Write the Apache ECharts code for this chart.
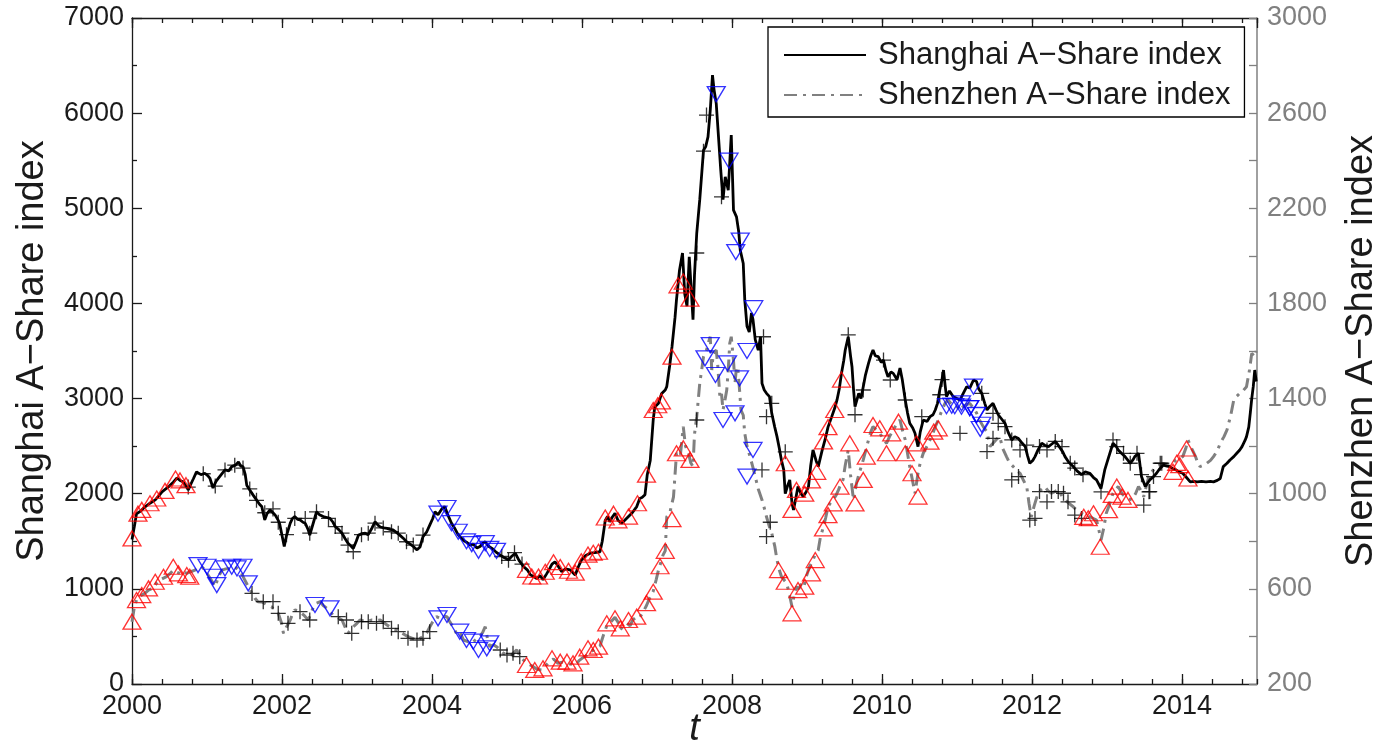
<!DOCTYPE html>
<html>
<head>
<meta charset="utf-8">
<script src="https://cdn.jsdelivr.net/npm/echarts@6/dist/echarts.min.js"></script>
<style>
  html, body { margin: 0; padding: 0; background: #fff; }
  #chart { width: 1387px; height: 742px; }
</style>
</head>
<body>
<div id="chart"></div>
<script>
// Shanghai A-Share index, [year, index level]
const shanghai = [
[2000.00,1520],[2000.03,1650],[2000.06,1790],[2000.12,1820],[2000.17,1860],[2000.24,1900],[2000.31,1935],[2000.36,1980],[2000.40,2020],[2000.45,2050],
[2000.49,2075],[2000.55,2120],[2000.60,2165],[2000.64,2140],[2000.68,2125],[2000.72,2080],[2000.75,2040],[2000.79,2110],[2000.82,2160],[2000.86,2230],
[2000.92,2200],[2000.97,2215],[2001.01,2190],[2001.04,2160],[2001.08,2060],[2001.12,2130],[2001.15,2160],[2001.20,2210],[2001.24,2250],[2001.29,2240],
[2001.33,2285],[2001.38,2300],[2001.42,2335],[2001.45,2290],[2001.48,2285],[2001.51,2200],[2001.53,2090],[2001.57,2040],[2001.62,1980],[2001.66,1935],
[2001.70,1890],[2001.73,1865],[2001.77,1725],[2001.80,1790],[2001.84,1830],[2001.88,1800],[2001.91,1775],[2001.95,1720],[2001.97,1680],[2002.03,1445],
[2002.06,1560],[2002.11,1690],[2002.14,1740],[2002.17,1760],[2002.21,1730],[2002.24,1725],[2002.28,1700],[2002.31,1690],[2002.35,1620],[2002.37,1565],
[2002.42,1700],[2002.46,1810],[2002.50,1780],[2002.55,1760],[2002.60,1750],[2002.64,1740],[2002.68,1700],[2002.71,1655],[2002.76,1620],[2002.80,1585],
[2002.84,1530],[2002.88,1480],[2002.92,1450],[2002.95,1425],[2002.99,1500],[2003.02,1565],[2003.07,1580],[2003.11,1585],[2003.15,1570],[2003.20,1640],
[2003.24,1705],[2003.28,1670],[2003.31,1650],[2003.36,1640],[2003.40,1635],[2003.44,1625],[2003.48,1620],[2003.53,1590],[2003.57,1565],[2003.62,1530],
[2003.66,1495],[2003.71,1470],[2003.75,1445],[2003.80,1410],[2003.84,1440],[2003.88,1550],[2003.93,1600],[2003.97,1670],[2004.01,1740],[2004.04,1810],
[2004.08,1780],[2004.13,1840],[2004.17,1865],[2004.21,1780],[2004.26,1690],[2004.30,1640],[2004.34,1580],[2004.37,1550],[2004.42,1510],[2004.46,1490],
[2004.51,1460],[2004.55,1470],[2004.60,1430],[2004.64,1445],[2004.68,1480],[2004.71,1495],[2004.75,1450],[2004.80,1425],[2004.85,1390],[2004.91,1355],
[2004.96,1330],[2005.02,1305],[2005.06,1340],[2005.11,1375],[2005.16,1300],[2005.22,1235],[2005.27,1200],[2005.31,1150],[2005.35,1130],[2005.40,1110],
[2005.44,1140],[2005.48,1095],[2005.53,1160],[2005.57,1215],[2005.60,1260],[2005.64,1285],[2005.68,1240],[2005.73,1180],[2005.78,1210],[2005.84,1200],
[2005.88,1170],[2005.91,1145],[2005.95,1230],[2005.99,1300],[2006.05,1350],[2006.11,1375],[2006.17,1380],[2006.24,1390],[2006.27,1500],[2006.31,1720],
[2006.34,1760],[2006.37,1705],[2006.40,1750],[2006.44,1795],[2006.48,1720],[2006.53,1690],[2006.57,1720],[2006.62,1760],[2006.67,1800],[2006.73,1865],
[2006.77,1950],[2006.80,1960],[2006.84,1990],[2006.87,2200],[2006.91,2350],[2006.95,2780],[2006.97,2910],[2007.02,2950],[2007.06,3050],[2007.11,3090],
[2007.13,3125],[2007.17,3350],[2007.20,3545],[2007.24,3850],[2007.26,4040],[2007.30,4350],[2007.34,4530],[2007.37,4100],[2007.40,3970],[2007.43,4490],
[2007.46,4100],[2007.48,3830],[2007.50,4300],[2007.53,4740],[2007.57,5090],[2007.60,5400],[2007.62,5610],[2007.65,5650],[2007.68,5750],[2007.71,6030],
[2007.74,6400],[2007.76,6250],[2007.79,6100],[2007.82,5750],[2007.85,5400],[2007.88,5090],[2007.91,5330],[2007.95,5190],[2007.99,5770],[2008.02,4980],
[2008.06,4910],[2008.09,4750],[2008.11,4560],[2008.15,4420],[2008.17,4040],[2008.20,3760],[2008.23,3700],[2008.26,3900],[2008.28,3830],[2008.31,3620],
[2008.35,3510],[2008.38,3650],[2008.40,3160],[2008.43,3090],[2008.46,3055],[2008.50,3020],[2008.53,2845],[2008.57,2700],[2008.60,2600],[2008.63,2480],
[2008.66,2350],[2008.69,2250],[2008.71,2000],[2008.74,2080],[2008.77,2145],[2008.80,1900],[2008.82,1830],[2008.85,1950],[2008.88,2075],[2008.92,2000],
[2008.95,1970],[2008.99,2020],[2009.02,2075],[2009.05,2300],[2009.08,2460],[2009.12,2350],[2009.15,2285],[2009.20,2450],[2009.24,2565],[2009.28,2700],
[2009.33,2810],[2009.37,2900],[2009.40,2985],[2009.43,3100],[2009.46,3265],[2009.49,3400],[2009.51,3510],[2009.55,3650],[2009.58,3450],[2009.60,3335],
[2009.62,3100],[2009.64,2915],[2009.67,3000],[2009.69,3055],[2009.72,3000],[2009.75,3125],[2009.78,3250],[2009.82,3370],[2009.85,3450],[2009.88,3510],
[2009.91,3450],[2009.95,3440],[2009.99,3380],[2010.02,3405],[2010.05,3300],[2010.08,3230],[2010.12,3280],[2010.15,3265],[2010.20,3200],[2010.24,3320],
[2010.27,3200],[2010.31,2985],[2010.34,2850],[2010.37,2740],[2010.41,2690],[2010.44,2635],[2010.48,2495],[2010.51,2650],[2010.55,2775],[2010.60,2760],
[2010.64,2810],[2010.68,2830],[2010.71,2880],[2010.74,2950],[2010.77,3090],[2010.80,3200],[2010.82,3300],[2010.84,3150],[2010.86,3020],[2010.90,3080],
[2010.95,3020],[2011.00,3000],[2011.04,2985],[2011.08,3050],[2011.13,3125],[2011.17,3110],[2011.22,3195],[2011.26,3180],[2011.29,3100],[2011.33,3055],
[2011.37,2950],[2011.40,2880],[2011.44,2920],[2011.48,2950],[2011.52,2880],[2011.55,2830],[2011.60,2780],[2011.64,2740],[2011.68,2650],[2011.73,2565],
[2011.77,2600],[2011.82,2580],[2011.87,2530],[2011.91,2495],[2011.94,2400],[2011.97,2320],[2012.01,2350],[2012.04,2390],[2012.08,2460],[2012.13,2530],
[2012.17,2510],[2012.22,2495],[2012.26,2520],[2012.31,2550],[2012.35,2510],[2012.37,2495],[2012.41,2440],[2012.44,2390],[2012.49,2330],[2012.55,2285],
[2012.60,2240],[2012.66,2200],[2012.71,2230],[2012.77,2215],[2012.82,2170],[2012.86,2145],[2012.92,2055],[2012.97,2250],[2013.02,2380],[2013.06,2480],
[2013.08,2530],[2013.12,2500],[2013.15,2460],[2013.20,2420],[2013.24,2390],[2013.28,2350],[2013.31,2320],[2013.35,2360],[2013.37,2390],[2013.42,2425],
[2013.46,2180],[2013.51,2075],[2013.54,2110],[2013.57,2145],[2013.62,2180],[2013.66,2215],[2013.70,2260],[2013.75,2300],[2013.80,2290],[2013.84,2285],
[2013.88,2260],[2013.92,2250],[2013.96,2230],[2014.01,2215],[2014.06,2170],[2014.11,2125],[2014.16,2130],[2014.20,2125],[2014.26,2130],[2014.32,2125],
[2014.38,2130],[2014.42,2125],[2014.47,2140],[2014.51,2160],[2014.55,2285],[2014.60,2320],[2014.64,2355],[2014.69,2390],[2014.73,2425],[2014.77,2460],
[2014.80,2495],[2014.84,2560],[2014.86,2600],[2014.89,2700],[2014.91,2845],[2014.93,3000],[2014.95,3125],[2014.97,3300],[2014.99,3180]
];

// Shenzhen A-Share index, [year, index level]
const shenzhen = [
[2000.00,462],[2000.03,520],[2000.06,553],[2000.11,570],[2000.17,581],[2000.22,595],[2000.28,602],[2000.33,625],[2000.37,637],[2000.42,645],
[2000.46,651],[2000.51,665],[2000.55,679],[2000.60,670],[2000.64,665],[2000.68,675],[2000.73,665],[2000.78,672],[2000.84,679],[2000.88,690],
[2000.93,693],[2000.97,680],[2001.00,665],[2001.05,640],[2001.11,609],[2001.15,650],[2001.20,679],[2001.25,684],[2001.29,686],[2001.33,690],
[2001.37,693],[2001.42,680],[2001.46,665],[2001.50,640],[2001.55,609],[2001.60,581],[2001.64,560],[2001.68,546],[2001.73,545],[2001.77,539],
[2001.82,530],[2001.86,525],[2001.90,510],[2001.95,497],[2001.99,460],[2002.02,413],[2002.06,440],[2002.11,469],[2002.14,495],[2002.17,511],
[2002.21,508],[2002.24,504],[2002.29,490],[2002.35,469],[2002.39,500],[2002.42,525],[2002.46,540],[2002.51,546],[2002.55,530],[2002.60,518],
[2002.64,505],[2002.68,490],[2002.74,480],[2002.80,469],[2002.84,440],[2002.88,413],[2002.92,430],[2002.95,441],[2003.00,455],[2003.04,469],
[2003.09,465],[2003.13,462],[2003.17,466],[2003.20,469],[2003.25,468],[2003.31,469],[2003.36,458],[2003.40,448],[2003.44,440],[2003.48,434],
[2003.53,427],[2003.57,420],[2003.62,410],[2003.68,399],[2003.74,392],[2003.80,385],[2003.84,392],[2003.88,399],[2003.93,415],[2003.97,440],
[2004.01,462],[2004.06,483],[2004.11,476],[2004.15,485],[2004.20,483],[2004.24,460],[2004.28,441],[2004.33,410],[2004.37,420],[2004.42,385],
[2004.46,380],[2004.53,371],[2004.58,385],[2004.64,399],[2004.68,420],[2004.71,441],[2004.74,390],[2004.77,357],[2004.82,365],[2004.86,357],
[2004.91,343],[2004.95,329],[2005.00,325],[2005.06,322],[2005.10,335],[2005.13,343],[2005.18,315],[2005.24,294],[2005.29,283],[2005.35,273],
[2005.40,262],[2005.46,259],[2005.51,275],[2005.57,294],[2005.62,305],[2005.68,287],[2005.74,292],[2005.80,287],[2005.86,283],[2005.91,280],
[2005.96,298],[2006.00,308],[2006.06,320],[2006.11,335],[2006.17,345],[2006.24,360],[2006.28,400],[2006.33,445],[2006.38,460],[2006.44,480],
[2006.48,460],[2006.51,430],[2006.55,441],[2006.60,455],[2006.64,445],[2006.68,470],[2006.73,483],[2006.77,480],[2006.81,500],[2006.86,530],
[2006.90,560],[2006.95,590],[2006.99,640],[2007.02,679],[2007.06,720],[2007.08,742],[2007.11,760],[2007.13,903],[2007.17,918],[2007.20,960],
[2007.22,987],[2007.26,1170],[2007.31,1156],[2007.35,1282],[2007.38,1200],[2007.42,1170],[2007.45,1130],[2007.48,1114],[2007.50,1250],[2007.53,1324],
[2007.57,1464],[2007.60,1530],[2007.62,1576],[2007.66,1604],[2007.69,1640],[2007.71,1660],[2007.73,1520],[2007.75,1590],[2007.79,1604],[2007.81,1540],
[2007.84,1400],[2007.86,1420],[2007.88,1352],[2007.91,1400],[2007.93,1436],[2007.95,1520],[2007.97,1632],[2007.99,1660],[2008.02,1560],[2008.04,1464],
[2008.06,1534],[2008.08,1520],[2008.10,1440],[2008.12,1352],[2008.15,1330],[2008.17,1254],[2008.20,1200],[2008.24,1156],[2008.28,1110],[2008.31,1072],
[2008.35,1020],[2008.40,974],[2008.43,940],[2008.46,903],[2008.50,860],[2008.53,834],[2008.57,780],[2008.60,721],[2008.63,680],[2008.66,651],
[2008.70,635],[2008.73,623],[2008.77,570],[2008.80,525],[2008.83,575],[2008.86,609],[2008.89,600],[2008.93,623],[2008.96,610],[2008.99,651],
[2009.03,690],[2009.08,721],[2009.11,745],[2009.15,763],[2009.18,820],[2009.22,861],[2009.25,900],[2009.28,945],[2009.31,960],[2009.35,974],
[2009.39,995],[2009.42,1016],[2009.45,1040],[2009.48,1058],[2009.51,1120],[2009.55,1184],[2009.58,1080],[2009.62,974],[2009.66,1044],[2009.70,1090],
[2009.75,1142],[2009.79,1190],[2009.82,1226],[2009.85,1260],[2009.88,1282],[2009.92,1270],[2009.97,1254],[2010.01,1235],[2010.06,1212],[2010.10,1240],
[2010.15,1268],[2010.19,1290],[2010.24,1310],[2010.27,1270],[2010.31,1226],[2010.34,1170],[2010.37,1114],[2010.41,1050],[2010.44,1002],[2010.48,1086],
[2010.51,1130],[2010.55,1170],[2010.60,1200],[2010.64,1226],[2010.68,1255],[2010.71,1282],[2010.75,1310],[2010.80,1352],[2010.84,1380],[2010.88,1394],
[2010.93,1375],[2011.00,1366],[2011.04,1350],[2011.08,1366],[2011.13,1375],[2011.17,1380],[2011.22,1360],[2011.26,1340],[2011.30,1310],[2011.35,1282],
[2011.40,1260],[2011.44,1198],[2011.48,1212],[2011.53,1230],[2011.57,1240],[2011.61,1190],[2011.66,1156],[2011.70,1130],[2011.75,1114],[2011.79,1100],
[2011.84,1086],[2011.88,1060],[2011.93,1030],[2011.96,960],[2011.99,903],[2012.03,950],[2012.08,1002],[2012.13,1020],[2012.17,1030],[2012.22,1010],
[2012.26,1002],[2012.31,1010],[2012.35,1016],[2012.40,990],[2012.44,974],[2012.49,960],[2012.55,945],[2012.60,930],[2012.66,918],[2012.71,910],
[2012.77,903],[2012.82,895],[2012.86,889],[2012.89,850],[2012.92,805],[2012.96,860],[2012.99,918],[2013.04,960],[2013.08,1002],[2013.12,1020],
[2013.15,1030],[2013.20,1000],[2013.24,988],[2013.28,980],[2013.33,974],[2013.38,1000],[2013.42,1030],[2013.46,1010],[2013.49,988],[2013.53,1040],
[2013.57,1086],[2013.62,1100],[2013.66,1114],[2013.70,1120],[2013.75,1128],[2013.80,1120],[2013.84,1114],[2013.88,1128],[2013.92,1142],[2013.97,1150],
[2014.01,1156],[2014.05,1190],[2014.08,1226],[2014.13,1190],[2014.18,1156],[2014.21,1130],[2014.24,1114],[2014.29,1120],[2014.33,1128],[2014.38,1140],
[2014.42,1156],[2014.47,1180],[2014.51,1212],[2014.56,1240],[2014.60,1268],[2014.65,1330],[2014.69,1394],[2014.73,1410],[2014.77,1422],[2014.82,1435],
[2014.86,1450],[2014.90,1520],[2014.93,1590],[2014.97,1576],[2014.99,1600]
];

// Signal marks on the Shanghai index
const shanghaiUp = [
[2000.00,1530],[2000.08,1790],[2000.13,1830],[2000.24,1900],[2000.33,1950],[2000.44,2030],[2000.58,2160],[2000.64,2140],[2000.72,2090],
[2005.26,1200],[2005.33,1130],[2005.42,1130],[2005.51,1180],[2005.62,1280],[2005.71,1230],[2005.82,1190],[2005.91,1170],[2005.99,1290],[2006.08,1360],
[2006.15,1380],[2006.22,1390],[2006.31,1750],[2006.42,1790],[2006.48,1720],[2006.62,1760],[2006.74,1900],[2006.86,2200],[2006.95,2880],[2007.01,2930],
[2007.06,2970],[2007.20,3440],[2007.28,4190],[2007.35,4230],[2007.44,4050],
[2008.71,2320],[2008.80,1830],[2008.86,2040],[2008.97,2000],[2009.06,2140],[2009.13,2230],[2009.22,2550],[2009.28,2700],[2009.37,2880],[2009.46,3200],
[2013.88,2230],[2013.97,2300],[2014.08,2160]
];
const shanghaiDown = [
[2004.08,1790],[2004.20,1850],[2004.26,1690],[2004.35,1600],[2004.46,1500],[2004.53,1470],[2004.62,1400],[2004.71,1480],[2004.77,1420],[2004.86,1400],
[2007.79,6200],[2007.96,5500],[2008.05,4540],[2008.11,4660],[2008.20,3500],[2008.29,3950],
[2010.86,2920],[2010.97,2920],[2011.06,2950],[2011.17,2900],[2011.22,3125],[2011.26,2830],[2011.31,2680]
];
const shanghaiFlat = [
[2000.75,2070],[2000.95,2210],[2001.11,2080],[2001.24,2250],[2001.37,2300],[2001.48,2270],[2001.57,2050],[2001.66,1930],[2001.77,1800],[2001.88,1840],
[2001.95,1700],[2002.06,1570],[2002.17,1740],[2002.31,1740],[2002.37,1585],[2002.46,1810],[2002.62,1740],[2002.71,1655],[2002.80,1585],[2002.88,1460],
[2002.95,1390],[2003.06,1570],[2003.15,1585],[2003.24,1690],[2003.35,1640],[2003.46,1600],[2003.55,1585],[2003.66,1495],[2003.75,1460],[2003.88,1565],
[2004.93,1340],[2005.02,1300],[2005.10,1380],[2005.20,1260],
[2007.53,4530],[2007.62,5600],[2007.66,5980],[2007.86,5120],
[2008.42,3650],[2008.46,2810],[2008.53,2950],[2008.71,2440],
[2009.55,3670],[2009.64,2830],[2009.75,3090],[2010.02,3405],[2010.11,3195],[2010.31,2985],[2010.53,2810],[2010.77,3040],[2010.80,3200],
[2011.33,3055],[2011.48,2845],[2011.55,2740],[2011.64,2705],[2011.73,2565],[2011.84,2460],[2011.93,2510],[2012.10,2495],[2012.20,2460],[2012.31,2550],
[2012.40,2495],[2012.51,2320],[2012.57,2270],[2012.68,2200],[2012.92,2020],[2013.08,2565],[2013.13,2495],[2013.22,2425],[2013.31,2320],[2013.40,2425],
[2013.46,2200],[2013.56,2020],[2013.62,2180],[2013.71,2320]
];

// Signal marks on the Shenzhen index
const shenzhenUp = [
[2000.00,462],[2000.06,553],[2000.13,574],[2000.22,602],[2000.31,630],[2000.42,651],[2000.55,693],[2000.62,665],[2000.73,658],[2000.77,651],
[2005.26,280],[2005.37,259],[2005.48,266],[2005.60,308],[2005.71,294],[2005.80,294],[2005.88,287],[2005.97,315],[2006.08,350],[2006.15,343],
[2006.22,357],[2006.33,455],[2006.44,476],[2006.51,434],[2006.62,469],[2006.73,483],[2006.86,540],[2006.95,588],[2007.04,695],[2007.11,760],
[2007.20,893],[2007.26,1170],[2007.35,1191],[2007.44,1142],
[2008.62,679],[2008.71,630],[2008.80,497],[2008.88,595],[2008.97,609],[2009.06,665],[2009.11,721],[2009.22,854],[2009.28,910],[2009.35,959],
[2009.44,1030],[2009.57,1212],[2009.64,959],[2009.75,1058],[2009.79,1156],[2009.88,1289],[2009.97,1275],[2010.06,1170],[2010.13,1254],[2010.22,1303],
[2010.31,1170],[2010.40,1086],[2010.46,1212],[2010.48,988],[2010.64,1219],[2010.69,1261],[2010.75,1275],
[2012.69,903],[2012.75,897],[2012.82,918],[2012.91,777],[2013.02,931],[2013.07,995],[2013.13,1030],[2013.20,988],[2013.28,974],
[2013.93,1130],[2014.06,1190]
];
const shenzhenDown = [
[2000.88,700],[2001.00,693],[2001.08,651],[2001.13,616],[2001.24,686],[2001.33,693],[2001.40,686],[2001.48,693],[2001.55,623],
[2002.44,532],[2002.64,518],
[2004.08,476],[2004.20,490],[2004.37,420],[2004.46,385],[2004.55,378],[2004.62,343],[2004.73,350],[2004.77,371],
[2007.64,1569],[2007.71,1625],[2007.78,1499],[2007.88,1310],[2007.94,1548],[2008.04,1338],[2008.10,1485],[2008.20,1072],[2008.28,1184],
[2010.93,1370],[2011.06,1366],[2011.17,1360],[2011.26,1330],[2011.33,1290]
];
const shenzhenFlat = [
[2001.60,581],[2001.75,546],[2001.88,546],[2001.95,497],[2002.08,455],[2002.24,504],[2002.37,469],[2002.75,483],[2002.86,469],[2002.93,413],
[2003.06,462],[2003.15,462],[2003.26,455],[2003.35,462],[2003.46,434],[2003.55,420],[2003.68,392],[2003.80,385],[2003.88,392],[2003.97,420],
[2004.91,343],[2005.00,322],[2005.08,329],[2005.17,315],
[2007.53,1310],
[2008.40,1100],[2008.46,820],[2008.51,880],
[2011.04,1254],[2011.40,1177],[2011.48,1233],[2011.73,1058],[2011.82,1072],[2011.97,889],[2012.04,896],[2012.10,1009],[2012.20,966],[2012.26,1009],
[2012.35,1009],[2012.42,1002],[2012.48,966],[2012.57,910],[2012.66,896],
[2013.49,952],[2013.57,1009],[2013.73,1128]
];

const seriesNames = ['Shanghai A\u2212Share index', 'Shenzhen A\u2212Share index'];
const yearRange = [2000, 2015];

const FONT = '"Liberation Sans", Arial, Helvetica, sans-serif';
const INK = '#1a1a1a';
const GRAY = '#808080';

const plus = 'path://M0,7L14,7M7,0L7,14';

function marks(data, yAxisIndex, kind) {
  const base = {
    type: 'scatter', data, xAxisIndex: 0, yAxisIndex,
    silent: true, z: 5, animation: false
  };
  if (kind === 'up') {
    return Object.assign(base, {
      symbol: 'triangle', symbolSize: [18, 15],
      itemStyle: { color: 'rgba(0,0,0,0)', borderColor: '#ff0000', borderWidth: 1.3 }
    });
  }
  if (kind === 'down') {
    return Object.assign(base, {
      symbol: 'triangle', symbolSize: [18, 15], symbolRotate: 180,
      itemStyle: { color: 'rgba(0,0,0,0)', borderColor: '#0000ff', borderWidth: 1.3 }
    });
  }
  return Object.assign(base, {
    symbol: plus, symbolSize: 15,
    itemStyle: { color: 'rgba(0,0,0,0)', borderColor: '#000000', borderWidth: 1.3 }
  });
}

const xBase = {
  type: 'value', min: yearRange[0], max: yearRange[1],
  axisLine: { show: true, lineStyle: { color: INK, width: 1.3 } },
  splitLine: { show: false }
};

const chart = echarts.init(document.getElementById('chart'));
chart.setOption({
  animation: false,
  backgroundColor: '#ffffff',
  grid: { left: 132, right: 130, top: 18, bottom: 58, containLabel: false, outerBoundsMode: 'none' },
  legend: {
    data: seriesNames,
    orient: 'vertical',
    left: 768, top: 27,
    itemWidth: 82, itemHeight: 14, itemGap: 6,
    padding: [11, 14, 5, 15],
    borderColor: '#000', borderWidth: 1.3, borderRadius: 0,
    backgroundColor: '#ffffff',
    selectedMode: false,
    itemStyle: { opacity: 0 },
    textStyle: { fontFamily: FONT, fontSize: 31, lineHeight: 34, color: INK, padding: [0, 0, 0, 7] }
  },
  xAxis: [
    Object.assign({}, xBase, {
      position: 'bottom', interval: 2,
      name: 't', nameLocation: 'middle', nameGap: 26, nameMoveOverlap: false,
      nameTextStyle: { fontFamily: FONT, fontSize: 38, fontStyle: 'italic', color: INK },
      axisTick: { show: true, inside: true, length: 10, lineStyle: { color: INK, width: 1.3 } },
      axisLabel: {
        show: true, fontFamily: FONT, fontSize: 27, color: INK, margin: 9, showMaxLabel: false,
        formatter: v => String(v)
      }
    }),
    Object.assign({}, xBase, {
      position: 'top', interval: 2,
      axisTick: { show: true, inside: true, length: 10, lineStyle: { color: INK, width: 1.3 } },
      axisLabel: { show: false }
    }),
    Object.assign({}, xBase, {
      position: 'bottom', interval: 0.4,
      axisLine: { show: false },
      axisTick: { show: true, inside: true, length: 5, lineStyle: { color: INK, width: 1.3 } },
      axisLabel: { show: false }
    }),
    Object.assign({}, xBase, {
      position: 'top', interval: 0.4,
      axisLine: { show: false },
      axisTick: { show: true, inside: true, length: 5, lineStyle: { color: INK, width: 1.3 } },
      axisLabel: { show: false }
    })
  ],
  yAxis: [
    {
      type: 'value', position: 'left', min: 0, max: 7000, interval: 1000,
      name: seriesNames[0], nameLocation: 'middle', nameGap: 80, nameRotate: 90,
      nameTextStyle: { fontFamily: FONT, fontSize: 38, color: INK },
      axisLine: { show: true, lineStyle: { color: INK, width: 1.3 } },
      axisTick: { show: true, inside: true, length: 10, lineStyle: { color: INK, width: 1.3 } },
      minorTick: { show: true, splitNumber: 2, length: 5, lineStyle: { color: INK, width: 1.3 } },
      axisLabel: { fontFamily: FONT, fontSize: 27, color: INK, margin: 8, formatter: v => String(v) },
      splitLine: { show: false }
    },
    {
      type: 'value', position: 'right', min: 200, max: 3000, interval: 200,
      name: seriesNames[1], nameLocation: 'middle', nameGap: 86, nameRotate: 90,
      nameTextStyle: { fontFamily: FONT, fontSize: 38, color: INK },
      axisLine: { show: true, lineStyle: { color: GRAY, width: 1.5 } },
      axisTick: { show: true, inside: true, length: 8, lineStyle: { color: GRAY, width: 1.3 } },
      axisLabel: {
        fontFamily: FONT, fontSize: 27, color: GRAY, margin: 10,
        formatter: v => ((v - 200) % 400 === 0 ? String(v) : '')
      },
      splitLine: { show: false }
    }
  ],
  series: [
    {
      name: seriesNames[1], type: 'line', data: shenzhen,
      xAxisIndex: 0, yAxisIndex: 1, symbol: 'none', showSymbol: false, z: 2,
      lineStyle: { color: GRAY, width: 3, type: [13, 6, 3, 6] },
      itemStyle: { color: GRAY }
    },
    {
      name: seriesNames[0], type: 'line', data: shanghai,
      xAxisIndex: 0, yAxisIndex: 0, symbol: 'none', showSymbol: false, z: 3,
      lineStyle: { color: '#000000', width: 2.8 },
      itemStyle: { color: '#000000' }
    },
    marks(shenzhenFlat, 1, 'flat'),
    marks(shanghaiFlat, 0, 'flat'),
    marks(shenzhenUp, 1, 'up'),
    marks(shanghaiUp, 0, 'up'),
    marks(shenzhenDown, 1, 'down'),
    marks(shanghaiDown, 0, 'down')
  ]
});
</script>
</body>
</html>
